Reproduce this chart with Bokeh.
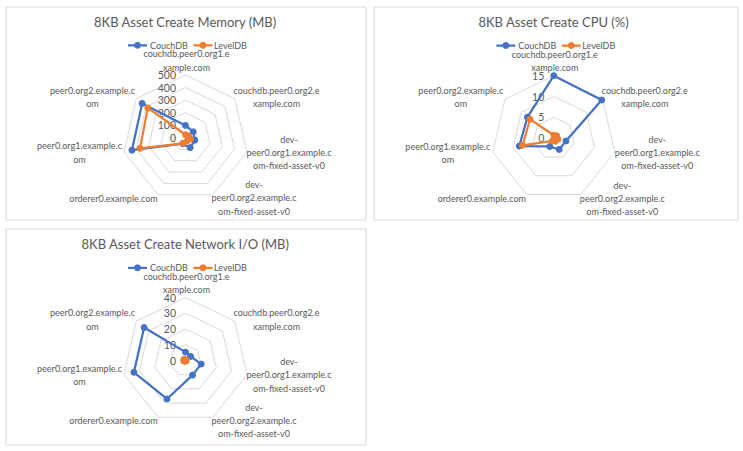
import numpy as np
from bokeh.plotting import figure
from bokeh.models import Range1d
from bokeh.core.properties import value
from bokeh.embed import file_html
from bokeh.resources import INLINE

# ---------------- data ----------------
categories = ["couchdb.peer0.org1.example.com", "couchdb.peer0.org2.example.com",
              "dev-peer0.org1.example.com-fixed-asset-v0", "dev-peer0.org2.example.com-fixed-asset-v0",
              "orderer0.example.com", "peer0.org1.example.com", "peer0.org2.example.com"]
category_labels = ["couchdb.peer0.org1.e\nxample.com", "couchdb.peer0.org2.e\nxample.com",
                   "dev-\npeer0.org1.example.c\nom-fixed-asset-v0", "dev-\npeer0.org2.example.c\nom-fixed-asset-v0",
                   "orderer0.example.com", "peer0.org1.example.c\nom", "peer0.org2.example.c\nom"]
series_names = ["CouchDB", "LevelDB"]

memory_couchdb = [100, 78, 76, 85, 50, 436, 440]
memory_leveldb = [26, 28, 40, 27, 47, 370, 383]
memory_ticks = [0, 100, 200, 300, 400, 500]

cpu_couchdb = [15.0, 14.7, 3.0, 3.0, 2.2, 8.5, 8.1]
cpu_leveldb = [0.7, 0.9, 1.0, 0.8, 0.7, 7.7, 7.3]
cpu_ticks = [0, 5, 10, 15]

network_couchdb = [5.3, 4.2, 10.2, 10.3, 27.1, 33.6, 33.6]
network_leveldb = [0.4, 0.3, 0.4, 0.3, 0.6, 1.2, 1.2]
network_ticks = [0, 10, 20, 30, 40]

titles = ["8KB Asset Create Memory (MB)", "8KB Asset Create CPU (%)", "8KB Asset Create Network I/O (MB)"]

# ---------------- layout / style ----------------
W, H = 743, 451
FONT = "Lato"
TXT = "#595959"
GRID = "#d9d9d9"
COLORS = ["#4472C4", "#ED7D31"]

panels = [
    dict(title=titles[0], series=[memory_couchdb, memory_leveldb], ticks=memory_ticks,
         cx=185.0, cy=137.5, R=63.0, box=(5.5, 6.5, 365.5, 219.5)),
    dict(title=titles[1], series=[cpu_couchdb, cpu_leveldb], ticks=cpu_ticks,
         cx=553.3, cy=137.7, R=62.5, box=(373.5, 6.5, 737.5, 219.5)),
    dict(title=titles[2], series=[network_couchdb, network_leveldb], ticks=network_ticks,
         cx=185.0, cy=360.0, R=63.0, box=(5.5, 228.5, 365.5, 444.5)),
]

# label block offsets (dx, dy of block centre) from radar centre
label_pos = [(1.0, -77.5), (91.0, -41.0), (103.5, 14.5), (68.5, 60.0),
             (-72.0, 60.0), (-106.0, 14.5), (-93.0, -41.0)]

p = figure(width=W, height=H, x_range=Range1d(0, W), y_range=Range1d(H, 0),
           output_backend="svg", toolbar_location=None, min_border=0)
p.axis.visible = False
p.grid.visible = False
p.outline_line_color = None
p.background_fill_color = "white"
p.border_fill_color = "white"

n = len(categories)
theta = np.arange(n) * 2 * np.pi / n


def polar(cx, cy, r):
    r = np.asarray(r, dtype=float)
    return cx + r * np.sin(theta), cy - r * np.cos(theta)


for pan in panels:
    cx, cy, R = pan["cx"], pan["cy"], pan["R"]
    ticks = pan["ticks"]
    vmax = ticks[-1]
    x0, y0, x1, y1 = pan["box"]
    p.quad(left=[x0], right=[x1], top=[y0], bottom=[y1], fill_color="white",
           line_color=GRID, line_width=1)
    # rings
    for t in ticks[1:]:
        xs, ys = polar(cx, cy, np.full(n, t / vmax * R))
        p.patch(list(xs) + [xs[0]], list(ys) + [ys[0]], fill_color=None,
                line_color=GRID, line_width=1)
    # tick labels
    p.text(x=[cx - 9.5] * len(ticks), y=[cy - t / vmax * R for t in ticks],
           text=[str(t) for t in ticks], text_align="right", text_baseline="middle",
           text_font=value(FONT), text_font_size="10.5px", text_color=TXT)
    # category labels
    for lab, (dx, dy) in zip(category_labels, label_pos):
        p.text(x=[cx + dx], y=[cy + dy], text=[lab], text_align="center", text_baseline="middle",
               text_font=value(FONT), text_font_size="9px", text_color=TXT,
               text_line_height=1.2)
    # series
    for vals, col in zip(pan["series"], COLORS):
        xs, ys = polar(cx, cy, np.asarray(vals) / vmax * R)
        p.line(list(xs) + [xs[0]], list(ys) + [ys[0]], line_color=col, line_width=2.25,
               line_join="round")
        p.scatter(xs, ys, size=6, fill_color=col, line_color=col)
    # title
    p.text(x=[cx], y=[cy - 116.5], text=[pan["title"]], text_align="center",
           text_baseline="middle", text_font=value(FONT), text_font_size="13px",
           text_color=TXT)
    # legend
    ly = cy - 92.7
    for (lx0, tx), name, col in zip([(-57.5, -35.5), (8.0, 28.5)], series_names, COLORS):
        p.segment(x0=[cx + lx0], y0=[ly], x1=[cx + lx0 + 19], y1=[ly], line_color=col,
                  line_width=2.25)
        p.scatter([cx + lx0 + 9.5], [ly], size=6, fill_color=col, line_color=col)
        p.text(x=[cx + tx], y=[ly], text=[name], text_align="left", text_baseline="middle",
               text_font=value(FONT), text_font_size="9px", text_color=TXT)

open("out.html", "w").write(file_html(p, INLINE))
